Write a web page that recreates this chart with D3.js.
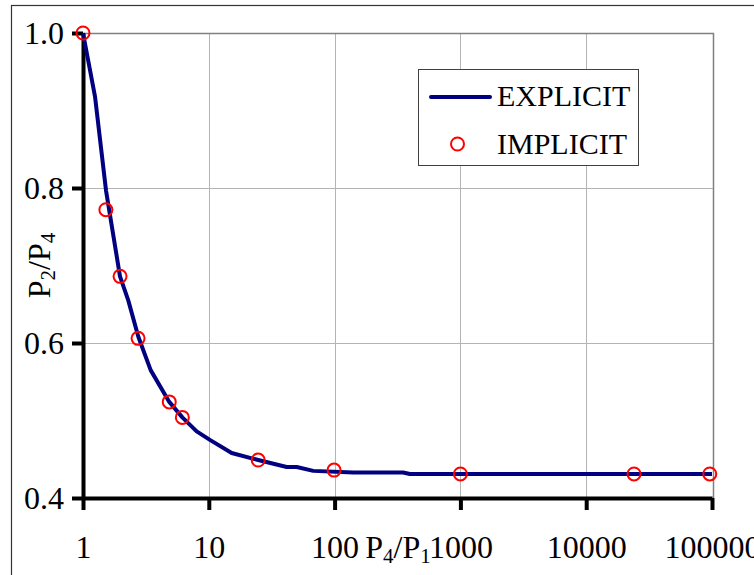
<!DOCTYPE html>
<html>
<head>
<meta charset="utf-8">
<script src="https://cdn.jsdelivr.net/npm/d3@7"></script>
<style>
  body { margin: 0; background: #fff; }
  svg text { font-family: "Liberation Serif", "Times New Roman", serif; fill: #000; }
</style>
</head>
<body>
<div id="chart"></div>
<script>
// Data
const explicitX = [1, 1.246, 1.523, 1.968, 2.29, 2.753, 3.45, 4.85, 6.16, 8.01, 10.2, 15.2, 24.7, 41.6, 50, 67.7, 141, 350, 397, 100000];
const explicitY = [1.0, 0.918, 0.797, 0.686, 0.655, 0.608, 0.565, 0.524, 0.504, 0.486, 0.475, 0.458, 0.449, 0.440, 0.440, 0.435, 0.433, 0.433, 0.431, 0.431];

const implicitX = [1, 1.52, 1.97, 2.74, 4.85, 6.16, 24.7, 99, 1000, 24000, 96000];
const implicitY = [1.0, 0.772, 0.686, 0.606, 0.524, 0.504, 0.449, 0.436, 0.431, 0.431, 0.431];

const xTicks = [1, 10, 100, 1000, 10000, 100000];
const yTicks = [0.4, 0.6, 0.8, 1.0];
const seriesNames = ['EXPLICIT', 'IMPLICIT'];

const width = 754, height = 575;
const plot = { left: 83, right: 713, top: 33, bottom: 498 };

const svg = d3.select('#chart')
  .append('svg')
  .attr('width', width)
  .attr('height', height);

// Outer chart border
svg.append('rect')
  .attr('x', 11.5).attr('y', 5.5)
  .attr('width', 800).attr('height', 700)
  .attr('fill', '#fff')
  .attr('stroke', '#333')
  .attr('stroke-width', 1.2);

const x = d3.scaleLog().domain([1, 100000]).range([plot.left, plot.right - 1]);
const y = d3.scaleLinear().domain([0.4, 1.0]).range([plot.bottom, plot.top]);

// Gridlines
const grid = svg.append('g').attr('stroke', '#b4b4b4').attr('stroke-width', 1);
grid.selectAll('line.v')
  .data(xTicks.slice(1, -1))
  .join('line')
  .attr('class', 'v')
  .attr('x1', d => Math.round(x(d)) + 0.5).attr('x2', d => Math.round(x(d)) + 0.5)
  .attr('y1', plot.top).attr('y2', plot.bottom);
grid.selectAll('line.h')
  .data(yTicks.slice(1, -1))
  .join('line')
  .attr('class', 'h')
  .attr('y1', d => Math.round(y(d)) + 0.5).attr('y2', d => Math.round(y(d)) + 0.5)
  .attr('x1', plot.left).attr('x2', plot.right);

// Plot area border (top and right)
svg.append('path')
  .attr('d', `M${plot.left},${plot.top + 0.5}H${plot.right + 0.5}V${plot.bottom}`)
  .attr('fill', 'none')
  .attr('stroke', '#808080')
  .attr('stroke-width', 1.5);

// Axes
const xAxis = svg.append('g')
  .attr('transform', `translate(0,${plot.bottom})`)
  .call(d3.axisBottom(x).tickValues(xTicks).tickFormat(d3.format('d')).tickSize(12).tickSizeOuter(0));
xAxis.select('.domain').attr('stroke-width', 4);
xAxis.selectAll('.tick line').attr('stroke-width', 4);
xAxis.selectAll('.tick text')
  .attr('y', 60).attr('dy', 0)
  .attr('font-size', 32);

const yAxis = svg.append('g')
  .attr('transform', `translate(${plot.left},0)`)
  .call(d3.axisLeft(y).tickValues(yTicks).tickFormat(d3.format('.1f')).tickSize(11).tickSizeOuter(0));
yAxis.select('.domain').attr('stroke-width', 4);
yAxis.selectAll('.tick line').attr('stroke-width', 4);
yAxis.selectAll('.tick text')
  .attr('x', -19).attr('dy', '0.34em')
  .attr('font-size', 32);
svg.selectAll('.tick text').attr('font-family', null);
svg.selectAll('g[font-family]').attr('font-family', null);

// Axis titles
const xTitle = svg.append('text')
  .attr('x', (plot.left + plot.right) / 2)
  .attr('y', 558)
  .attr('text-anchor', 'middle')
  .attr('font-size', 32);
xTitle.append('tspan').text('P');
xTitle.append('tspan').attr('font-size', 21).attr('dy', 5).text('4');
xTitle.append('tspan').attr('dy', -5).text('/P');
xTitle.append('tspan').attr('font-size', 21).attr('dy', 5).text('1');

const yTitle = svg.append('text')
  .attr('transform', `translate(50,${(plot.top + plot.bottom) / 2}) rotate(-90)`)
  .attr('text-anchor', 'middle')
  .attr('font-size', 32);
yTitle.append('tspan').text('P');
yTitle.append('tspan').attr('font-size', 21).attr('dy', 5).text('2');
yTitle.append('tspan').attr('dy', -5).text('/P');
yTitle.append('tspan').attr('font-size', 21).attr('dy', 5).text('4');

// Explicit line
const explicit = explicitX.map((v, i) => [v, explicitY[i]]);
svg.append('path')
  .datum(explicit)
  .attr('fill', 'none')
  .attr('stroke', '#000080')
  .attr('stroke-width', 4)
  .attr('stroke-linejoin', 'round')
  .attr('d', d3.line().x(d => x(d[0])).y(d => y(d[1])));

// Implicit markers
const implicit = implicitX.map((v, i) => [v, implicitY[i]]);
svg.append('g')
  .selectAll('circle')
  .data(implicit)
  .join('circle')
  .attr('cx', d => x(d[0]))
  .attr('cy', d => y(d[1]))
  .attr('r', 6.5)
  .attr('fill', 'none')
  .attr('stroke', '#ff0000')
  .attr('stroke-width', 2);

// Legend
const legend = svg.append('g');
legend.append('rect')
  .attr('x', 418.5).attr('y', 69.5)
  .attr('width', 220).attr('height', 96)
  .attr('fill', '#fff')
  .attr('stroke', '#404040')
  .attr('stroke-width', 1);
legend.append('line')
  .attr('x1', 431).attr('x2', 490)
  .attr('y1', 97).attr('y2', 97)
  .attr('stroke', '#000080')
  .attr('stroke-width', 4)
  .attr('stroke-linecap', 'round');
legend.append('circle')
  .attr('cx', 457.5).attr('cy', 144)
  .attr('r', 6.5)
  .attr('fill', 'none')
  .attr('stroke', '#ff0000')
  .attr('stroke-width', 2);
legend.selectAll('text')
  .data(seriesNames)
  .join('text')
  .attr('x', 497)
  .attr('y', (d, i) => 106 + i * 47.5)
  .attr('font-size', 30)
  .text(d => d);
</script>
</body>
</html>
